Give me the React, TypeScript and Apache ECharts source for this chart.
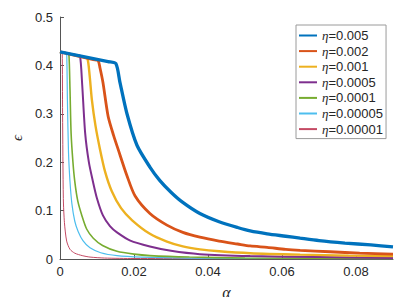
import React, { useEffect, useRef } from "react";
import * as echarts from "echarts";

const seriesNames = [
  "η=0.005",
  "η=0.002",
  "η=0.001",
  "η=0.0005",
  "η=0.0001",
  "η=0.00005",
  "η=0.00001",
];

const eta005: [number, number][] = [
  [0, 0.428], [0.013, 0.408], [0.0151, 0.404], [0.0162, 0.365], [0.0181, 0.3], [0.0208, 0.235],
  [0.0243, 0.19], [0.027, 0.162], [0.03, 0.138], [0.033, 0.118], [0.0378, 0.094],
  [0.043, 0.077], [0.048, 0.065], [0.0514, 0.058], [0.056, 0.052], [0.061, 0.047],
  [0.0649, 0.043], [0.07, 0.038], [0.077, 0.033], [0.084, 0.029], [0.09, 0.025],
];
const eta002: [number, number][] = [
  [0, 0.428], [0.009, 0.412], [0.0103, 0.41], [0.0108, 0.395], [0.0116, 0.365], [0.013, 0.295],
  [0.0145, 0.255], [0.0157, 0.227], [0.0181, 0.172], [0.0203, 0.13], [0.0243, 0.094],
  [0.0289, 0.07], [0.0332, 0.055], [0.0378, 0.045], [0.043, 0.037], [0.048, 0.031],
  [0.0514, 0.027], [0.056, 0.024], [0.061, 0.02], [0.0649, 0.018], [0.073, 0.015],
  [0.081, 0.012], [0.09, 0.01],
];
const eta001: [number, number][] = [
  [0, 0.428], [0.0065, 0.417], [0.0074, 0.415], [0.008, 0.38], [0.0086, 0.33], [0.0096, 0.275],
  [0.0108, 0.227], [0.0122, 0.18], [0.014, 0.14], [0.0165, 0.105], [0.0195, 0.08],
  [0.0243, 0.052], [0.0289, 0.036], [0.0332, 0.026], [0.0378, 0.02], [0.043, 0.016],
  [0.0514, 0.012], [0.0649, 0.009], [0.078, 0.007], [0.09, 0.006],
];
const eta0005: [number, number][] = [
  [0, 0.428], [0.0047, 0.421], [0.0054, 0.42], [0.006, 0.36], [0.0068, 0.26], [0.0078, 0.2],
  [0.0089, 0.16], [0.01, 0.125], [0.0116, 0.09], [0.0135, 0.068], [0.0154, 0.055],
  [0.019, 0.038], [0.0243, 0.026], [0.03, 0.017], [0.0378, 0.01], [0.0514, 0.006],
  [0.07, 0.004], [0.09, 0.002],
];
const eta0001: [number, number][] = [
  [0, 0.428], [0.002, 0.425], [0.0024, 0.424], [0.0027, 0.35], [0.003, 0.26], [0.0035, 0.2],
  [0.004, 0.16], [0.0048, 0.12], [0.0059, 0.09], [0.0072, 0.062], [0.009, 0.043],
  [0.0115, 0.028], [0.0154, 0.016], [0.02, 0.01], [0.0243, 0.007], [0.035, 0.004],
  [0.05, 0.002], [0.09, 0.001],
];
const eta00005: [number, number][] = [
  [0, 0.428], [0.0015, 0.4255], [0.0018, 0.425], [0.002, 0.33], [0.0023, 0.22], [0.0027, 0.16],
  [0.0032, 0.115], [0.004, 0.078], [0.0049, 0.057], [0.0062, 0.038], [0.0081, 0.023],
  [0.011, 0.013], [0.0154, 0.007], [0.022, 0.004], [0.035, 0.002], [0.06, 0.001],
  [0.09, 0.0005],
];
const eta00001: [number, number][] = [
  [0, 0.428], [0.0004, 0.4275], [0.0006, 0.427], [0.0007, 0.3], [0.0009, 0.125], [0.0012, 0.075],
  [0.0018, 0.037], [0.0027, 0.02], [0.004, 0.012], [0.006, 0.007], [0.0081, 0.004],
  [0.012, 0.002], [0.02, 0.001], [0.09, 0.0005],
];

const allData = [eta005, eta002, eta001, eta0005, eta0001, eta00005, eta00001];
const colors = ["#0072BD", "#D95319", "#EDB120", "#7E2F8E", "#77AC30", "#4DBEEE", "#C44A64"];
const widths = [3.3, 2.8, 2.4, 2, 1.6, 1.2, 1];

const xTicks = [0, 0.02, 0.04, 0.06, 0.08];
const yTicks = [0, 0.1, 0.2, 0.3, 0.4, 0.5];

export default function App() {
  const ref = useRef<HTMLDivElement>(null);
  useEffect(() => {
    if (!ref.current) return;
    const chart = echarts.init(ref.current, undefined, { renderer: "svg" });
    const font = "'Liberation Sans', Arial, Helvetica, sans-serif";
    const serif = "'Liberation Serif', 'DejaVu Serif', serif";
    chart.setOption({
      animation: false,
      backgroundColor: "#ffffff",
      grid: { left: 60, right: 22, top: 17, bottom: 44, containLabel: false },
      legend: {
        orient: "vertical",
        left: 296,
        top: 25,
        padding: [4, 3, 3, 2],
        itemGap: 2.6,
        itemWidth: 18,
        itemHeight: 12,
        backgroundColor: "#ffffff",
        borderColor: "#9a9a9a",
        borderWidth: 1,
        borderRadius: 0,
        itemStyle: { opacity: 0 },
        data: seriesNames,
        formatter: (name: string) => `{i|η}{n|${name.slice(1)}}`,
        textStyle: {
          color: "#262626",
          fontFamily: font,
          fontSize: 13,
          rich: {
            i: { fontFamily: serif, fontStyle: "italic", fontSize: 13, color: "#262626" },
            n: { fontFamily: font, fontSize: 13, color: "#262626" },
          },
        },
      },
      xAxis: {
        type: "value",
        min: 0,
        max: 0.09,
        interval: 0.02,
        name: "α",
        nameLocation: "middle",
        nameGap: 25,
        nameTextStyle: { fontFamily: serif, fontStyle: "italic", fontSize: 16, color: "#262626" },
        axisLine: { show: true, lineStyle: { color: "#555555", width: 1 } },
        axisTick: { show: true, inside: true, length: 4, lineStyle: { color: "#555555" } },
        axisLabel: {
          color: "#262626",
          fontFamily: font,
          fontSize: 13,
          margin: 6,
          showMaxLabel: false,
          formatter: (v: number) => {
            const t = xTicks.find((x) => Math.abs(x - v) < 1e-9);
            return t === undefined ? "" : String(t);
          },
        },
        splitLine: { show: false },
      },
      yAxis: {
        type: "value",
        min: 0,
        max: 0.5,
        interval: 0.1,
        name: "ϵ",
        nameLocation: "middle",
        nameGap: 35,
        nameRotate: 90,
        nameTextStyle: { fontFamily: serif, fontStyle: "italic", fontSize: 15, color: "#262626" },
        axisLine: { show: true, lineStyle: { color: "#555555", width: 1 } },
        axisTick: { show: true, inside: true, length: 4, lineStyle: { color: "#555555" } },
        axisLabel: {
          color: "#262626",
          fontFamily: font,
          fontSize: 13,
          margin: 7,
          formatter: (v: number) => {
            const t = yTicks.find((y) => Math.abs(y - v) < 1e-9);
            return t === undefined ? "" : String(t);
          },
        },
        splitLine: { show: false },
      },
      series: seriesNames.map((name, i) => ({
        name,
        type: "line",
        data: allData[i],
        symbol: "none",
        showSymbol: false,
        smooth: 0.25,
        z: 10 - i,
        color: colors[i],
        lineStyle: { color: colors[i], width: widths[i] },
      })),
    });
    return () => chart.dispose();
  }, []);
  return <div ref={ref} style={{ width: 415, height: 305, margin: -8 }} />;
}
